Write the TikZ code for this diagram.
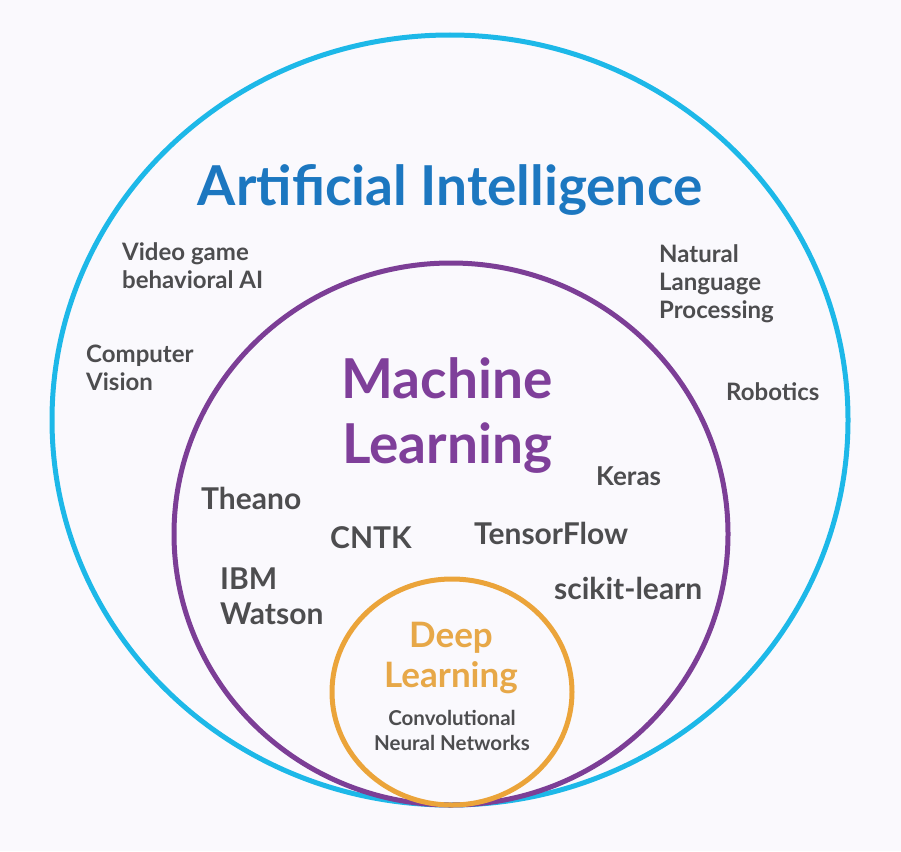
\documentclass[tikz,border=0pt]{standalone}
\usepackage{fontspec}
\setmainfont{Lato}
\definecolor{bgc}{RGB}{250,249,253}
\definecolor{aicirc}{RGB}{29,184,232}
\definecolor{mlcirc}{RGB}{124,62,150}
\definecolor{dlcirc}{RGB}{235,164,58}
\definecolor{aitext}{RGB}{28,119,192}
\definecolor{mltext}{RGB}{127,63,154}
\definecolor{dltext}{RGB}{231,168,72}
\definecolor{graytext}{RGB}{77,77,79}
\tikzset{
  ring/.style={line width=5pt},
  title/.style={inner sep=0pt, font=\bfseries, align=center, anchor=base},
  lbl/.style={inner sep=0pt, text=graytext, align=left, anchor=base west},
  outerlbl/.style={lbl, font=\bfseries\fontsize{24}{27.5}\selectfont},
  innerlbl/.style={lbl, font=\bfseries\fontsize{30}{35}\selectfont},
}
\begin{document}
\begin{tikzpicture}[x=1pt,y=-1pt]
\fill[bgc] (0,0) rectangle (901,851);
\useasboundingbox (0,0) rectangle (901,851);
\draw[ring, aicirc] (450,420) ellipse [x radius=398pt, y radius=385pt];
\draw[ring, mlcirc] (451,534) ellipse [x radius=277pt, y radius=271pt];
\draw[ring, dlcirc] (452,692) ellipse [x radius=120pt, y radius=113pt];

% last-line baselines
\node[title, text=aitext, font=\bfseries\fontsize{55}{60}\selectfont] (ai) at (450,205) {Artificial Intelligence};
\node[title, text=mltext, font=\bfseries\fontsize{55}{65}\selectfont] (ml) at (447,463) {Machine\\Learning};
\node[title, text=dltext, font=\bfseries\fontsize{35}{40}\selectfont] (dl) at (451,687) {Deep\\Learning};
\node[title, text=graytext, font=\bfseries\fontsize{20.5}{25}\selectfont] (cnn) at (452,750) {Convolutional\\Neural Networks};

\node[outerlbl] (vg) at (122,288) {Video game\\behavioral AI};
\node[outerlbl] (cv) at (86,390) {Computer\\Vision};
\node[outerlbl, font=\bfseries\fontsize{24}{28}\selectfont] (nlp) at (659,318) {Natural\\Language\\Processing};
\node[outerlbl] (rob) at (726,400) {Robotics};

\node[innerlbl, font=\bfseries\fontsize{26}{38}\selectfont] (keras) at (596,485) {Keras};
\node[innerlbl] (theano) at (201,509) {Theano};
\node[innerlbl] (cntk) at (330,548) {CNTK};
\node[innerlbl] (tf) at (474,544) {TensorFlow};
\node[innerlbl] (ibm) at (220,624) {IBM\\Watson};
\node[innerlbl] (sk) at (554,599) {scikit-learn};
\end{tikzpicture}
\end{document}
